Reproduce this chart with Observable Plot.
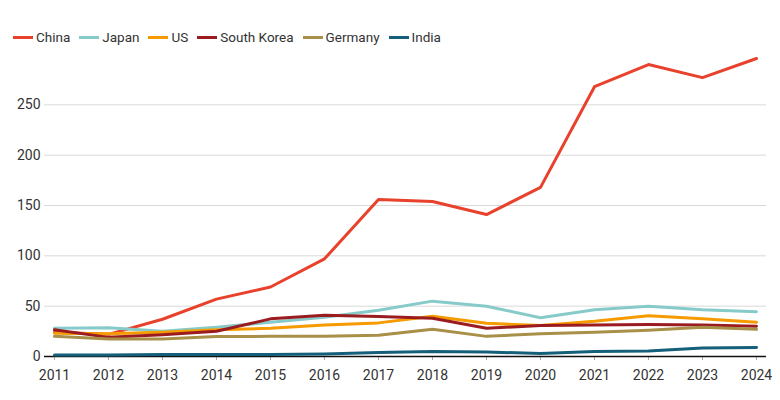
<!DOCTYPE html>
<html>
<head>
<meta charset="utf-8">
<script src="https://cdn.jsdelivr.net/npm/d3@7"></script>
<script src="https://cdn.jsdelivr.net/npm/@observablehq/plot@0.6"></script>
<style>
  body { margin: 0; background: #fff; font-family: Roboto, "Noto Sans", sans-serif; }
  #legend { height: 50px; box-sizing: border-box; padding: 24px 0 0 13px; display: flex; align-items: center; font-size: 13.5px; color: #333; line-height: 20px; }
  .item { display: flex; align-items: center; margin-right: 9px; }
  .sw { width: 20px; height: 3px; margin-right: 3px; }
</style>
</head>
<body>
<div id="legend"></div>
<div id="chart"></div>
<script>
const years = [2011,2012,2013,2014,2015,2016,2017,2018,2019,2020,2021,2022,2023,2024];
const seriesNames = ["China","Japan","US","South Korea","Germany","India"];
const seriesColors = ["#e8412c","#86cbc9","#f59b00","#9b1c20","#a89048","#14607a"];
const china      = [24,22,37,57,69,97,156,154,141,168,268,290,277,296];
const japan      = [28,28.5,25,29,34,39,46,55,50,38.5,46.5,50,46.5,44.5];
const us         = [23,22.5,24,26.5,28,31.4,33.4,40,33,30.8,35,40.4,37.4,34];
const southKorea = [26.5,19,21.5,25,37.4,41,39.7,38,28,30.8,31.4,31.7,31.4,30];
const germany    = [20,17.5,17.5,19.8,20,20,21,27,20,22.5,24,26,29,27];
const india      = [1.5,1.5,2,2,2,2.5,4,5,4.5,3,5,5.5,8.5,9];
const yTicks = [0,50,100,150,200,250];

const valuesBySeries = [china, japan, us, southKorea, germany, india];
const data = [];
seriesNames.forEach((name, i) => {
  years.forEach((yr, j) => data.push({series: name, year: yr, value: valuesBySeries[i][j]}));
});

const legend = document.getElementById("legend");
seriesNames.forEach((name, i) => {
  const it = document.createElement("div");
  it.className = "item";
  it.innerHTML = `<span class="sw" style="background:${seriesColors[i]}"></span><span>${name}</span>`;
  legend.appendChild(it);
});

const chart = Plot.plot({
  width: 780,
  height: 350,
  marginLeft: 44,
  marginRight: 14,
  marginTop: 4,
  marginBottom: 44,
  style: { fontFamily: "Roboto, 'Noto Sans', sans-serif", fontSize: "14px", color: "#333", background: "#fff" },
  x: { domain: [2011, 2024], insetLeft: 10, insetRight: 10, ticks: years, tickFormat: "d" },
  y: { domain: [0, 300], ticks: yTicks },
  color: { domain: seriesNames, range: seriesColors },
  marks: [
    Plot.ruleY(yTicks.filter(d => d > 0), { stroke: "#d9d9d9", strokeWidth: 1 }),
    Plot.axisY({ ticks: yTicks, tickSize: 0, tickPadding: 4, label: null, fill: "#333" }),
    Plot.axisX({ ticks: years, tickSize: 4, tickPadding: 10, tickFormat: "d", label: null, stroke: "#aaa", fill: "#333" }),
    Plot.ruleY([0], { stroke: "#111", strokeWidth: 1.5 }),
    Plot.line(data, { x: "year", y: "value", z: "series", stroke: "series", strokeWidth: 3, curve: "linear" })
  ]
});
document.getElementById("chart").appendChild(chart);
</script>
</body>
</html>
